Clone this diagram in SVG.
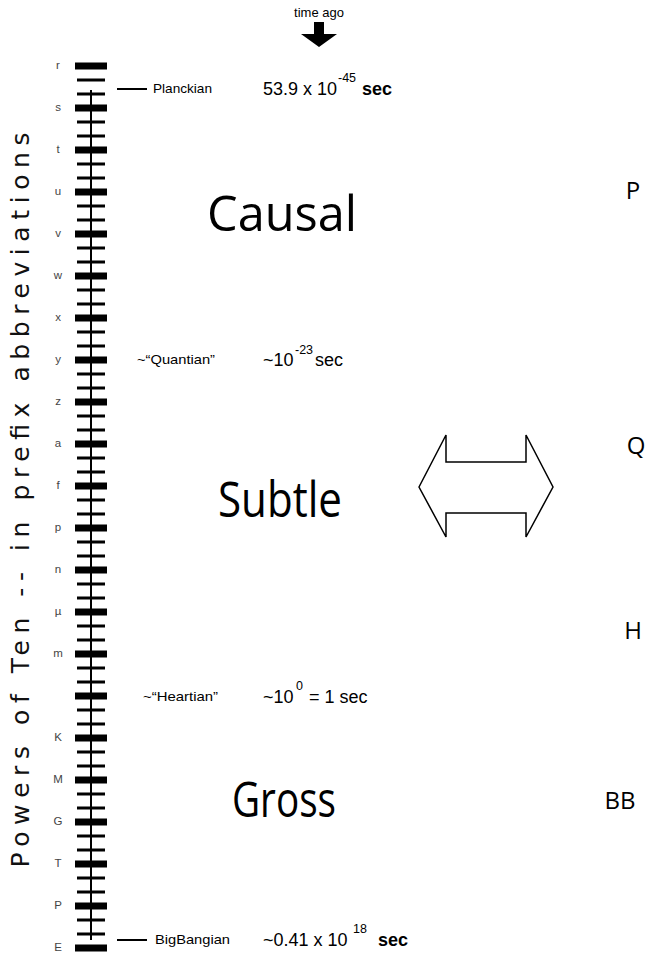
<svg xmlns="http://www.w3.org/2000/svg" width="654" height="956" viewBox="0 0 654 956">
<style>
.maj{fill:#000}
.min{fill:#000}
.lt{font-family:"Liberation Sans",Arial,sans-serif;font-size:11.5px;fill:#444}
.sm{font-family:"Liberation Sans",Arial,sans-serif;font-size:13px;fill:#000}
.num{font-family:"Liberation Sans",Arial,sans-serif;font-size:18px;fill:#000}
.sup{font-family:"Liberation Sans",Arial,sans-serif;font-size:12.5px;fill:#000}
.big{font-family:"Open Sans","Noto Sans",sans-serif;font-size:49px;fill:#000}
.side{font-family:"Open Sans","Noto Sans",sans-serif;font-size:24px;fill:#000}
</style>
<rect width="654" height="956" fill="#fff"/>
<g id="axis-title">
<text transform="translate(29,500) rotate(-90)" text-anchor="middle" font-family="DejaVu Sans,sans-serif" font-size="25" fill="#111" textLength="735" lengthAdjust="spacing">Powers of Ten -- in prefix abbreviations</text>
</g>
<g id="ruler">
<line x1="91" y1="90" x2="91" y2="940" stroke="#000" stroke-width="2"/>
<g class="maj">
<rect x="75" y="62.5" width="32" height="7"/><rect x="75" y="104.5" width="32" height="7"/><rect x="75" y="146.5" width="32" height="7"/><rect x="75" y="188.5" width="32" height="7"/><rect x="75" y="230.5" width="32" height="7"/><rect x="75" y="272.5" width="32" height="7"/><rect x="75" y="314.5" width="32" height="7"/><rect x="75" y="356.5" width="32" height="7"/><rect x="75" y="398.5" width="32" height="7"/><rect x="75" y="440.5" width="32" height="7"/><rect x="75" y="482.5" width="32" height="7"/><rect x="75" y="524.5" width="32" height="7"/><rect x="75" y="566.5" width="32" height="7"/><rect x="75" y="608.5" width="32" height="7"/><rect x="75" y="650.5" width="32" height="7"/><rect x="75" y="692.5" width="32" height="7"/><rect x="75" y="734.5" width="32" height="7"/><rect x="75" y="776.5" width="32" height="7"/><rect x="75" y="818.5" width="32" height="7"/><rect x="75" y="860.5" width="32" height="7"/><rect x="75" y="902.5" width="32" height="7"/><rect x="75" y="944.5" width="32" height="7"/>
</g>
<g class="min">
<rect x="77" y="78.5" width="28" height="3"/><rect x="77" y="92.5" width="28" height="3"/>
<rect x="77" y="120.5" width="28" height="3"/><rect x="77" y="134.5" width="28" height="3"/>
<rect x="77" y="162.5" width="28" height="3"/><rect x="77" y="176.5" width="28" height="3"/>
<rect x="77" y="204.5" width="28" height="3"/><rect x="77" y="218.5" width="28" height="3"/>
<rect x="77" y="246.5" width="28" height="3"/><rect x="77" y="260.5" width="28" height="3"/>
<rect x="77" y="288.5" width="28" height="3"/><rect x="77" y="302.5" width="28" height="3"/>
<rect x="77" y="330.5" width="28" height="3"/><rect x="77" y="344.5" width="28" height="3"/>
<rect x="77" y="372.5" width="28" height="3"/><rect x="77" y="386.5" width="28" height="3"/>
<rect x="77" y="414.5" width="28" height="3"/><rect x="77" y="428.5" width="28" height="3"/>
<rect x="77" y="456.5" width="28" height="3"/><rect x="77" y="470.5" width="28" height="3"/>
<rect x="77" y="498.5" width="28" height="3"/><rect x="77" y="512.5" width="28" height="3"/>
<rect x="77" y="540.5" width="28" height="3"/><rect x="77" y="554.5" width="28" height="3"/>
<rect x="77" y="582.5" width="28" height="3"/><rect x="77" y="596.5" width="28" height="3"/>
<rect x="77" y="624.5" width="28" height="3"/><rect x="77" y="638.5" width="28" height="3"/>
<rect x="77" y="666.5" width="28" height="3"/><rect x="77" y="680.5" width="28" height="3"/>
<rect x="77" y="708.5" width="28" height="3"/><rect x="77" y="722.5" width="28" height="3"/>
<rect x="77" y="750.5" width="28" height="3"/><rect x="77" y="764.5" width="28" height="3"/>
<rect x="77" y="792.5" width="28" height="3"/><rect x="77" y="806.5" width="28" height="3"/>
<rect x="77" y="834.5" width="28" height="3"/><rect x="77" y="848.5" width="28" height="3"/>
<rect x="77" y="876.5" width="28" height="3"/><rect x="77" y="890.5" width="28" height="3"/>
<rect x="77" y="918.5" width="28" height="3"/><rect x="77" y="932.5" width="28" height="3"/>
</g>
<g class="letters">
<text class="lt" x="58" y="69" text-anchor="middle">r</text>
<text class="lt" x="58" y="111" text-anchor="middle">s</text>
<text class="lt" x="58" y="153" text-anchor="middle">t</text>
<text class="lt" x="58" y="195" text-anchor="middle">u</text>
<text class="lt" x="58" y="237" text-anchor="middle">v</text>
<text class="lt" x="58" y="279" text-anchor="middle">w</text>
<text class="lt" x="58" y="321" text-anchor="middle">x</text>
<text class="lt" x="58" y="363" text-anchor="middle">y</text>
<text class="lt" x="58" y="405" text-anchor="middle">z</text>
<text class="lt" x="58" y="447" text-anchor="middle">a</text>
<text class="lt" x="58" y="489" text-anchor="middle">f</text>
<text class="lt" x="58" y="531" text-anchor="middle">p</text>
<text class="lt" x="58" y="573" text-anchor="middle">n</text>
<text class="lt" x="58" y="615" text-anchor="middle">µ</text>
<text class="lt" x="58" y="657" text-anchor="middle">m</text>
<text class="lt" x="58" y="741" text-anchor="middle">K</text>
<text class="lt" x="58" y="783" text-anchor="middle">M</text>
<text class="lt" x="58" y="825" text-anchor="middle">G</text>
<text class="lt" x="58" y="867" text-anchor="middle">T</text>
<text class="lt" x="58" y="909" text-anchor="middle">P</text>
<text class="lt" x="58" y="951" text-anchor="middle">E</text>
</g>
</g>
<g id="time-ago">
<text class="sm" x="319" y="17" text-anchor="middle" font-size="12">time ago</text>
<polygon points="314,22 324,22 324,34 337,34 319,47 301,34 314,34" fill="#000"/>
</g>
<g id="planckian">
<line x1="117" y1="89" x2="147" y2="89" stroke="#000" stroke-width="2"/>
<text class="sm" x="153" y="93" textLength="59" lengthAdjust="spacingAndGlyphs">Planckian</text>
<text class="num" x="263" y="95" font-size="17">53.9 x 10</text>
<text class="sup" x="338" y="82">-45</text>
<text class="num" x="362" y="95" font-size="17" font-weight="bold">sec</text>
</g>
<g id="quantian">
<text class="sm" x="137" y="364" textLength="78" lengthAdjust="spacingAndGlyphs">~“Quantian”</text>
<text class="num" x="263" y="366">~10</text>
<text class="sup" x="295" y="354">-23</text>
<text class="num" x="315" y="366">sec</text>
</g>
<g id="heartian">
<text class="sm" x="143" y="701" textLength="75" lengthAdjust="spacingAndGlyphs">~“Heartian”</text>
<text class="num" x="263" y="703">~10</text>
<text class="sup" x="296" y="690">0</text>
<text class="num" x="309" y="703">= 1 sec</text>
</g>
<g id="bigbangian">
<line x1="117" y1="940" x2="147" y2="940" stroke="#000" stroke-width="2"/>
<text class="sm" x="155" y="944" textLength="75" lengthAdjust="spacingAndGlyphs">BigBangian</text>
<text class="num" x="263" y="946">~0.41 x 10</text>
<text class="sup" x="353" y="933">18</text>
<text class="num" x="378" y="946" font-weight="bold">sec</text>
</g>
<g id="causal"><text class="big" x="207" y="231" textLength="150" lengthAdjust="spacingAndGlyphs">Causal</text></g>
<g id="subtle"><text class="big" x="218" y="517" textLength="124" lengthAdjust="spacingAndGlyphs">Subtle</text></g>
<g id="gross"><text class="big" x="232" y="817" textLength="104" lengthAdjust="spacingAndGlyphs">Gross</text></g>
<g id="P"><text class="side" x="633" y="199" text-anchor="middle">P</text></g>
<g id="Q"><text class="side" x="636" y="454" text-anchor="middle">Q</text></g>
<g id="H"><text class="side" x="633" y="639" text-anchor="middle">H</text></g>
<g id="BB"><text class="side" x="620" y="809" text-anchor="middle">BB</text></g>
<g id="double-arrow">
<polygon points="419,487 446,435 446,462 526,462 526,435 553,487 526,537 526,513 446,513 446,537" fill="#fff" stroke="#000" stroke-width="1.5" stroke-linejoin="miter"/>
</g>
</svg>
